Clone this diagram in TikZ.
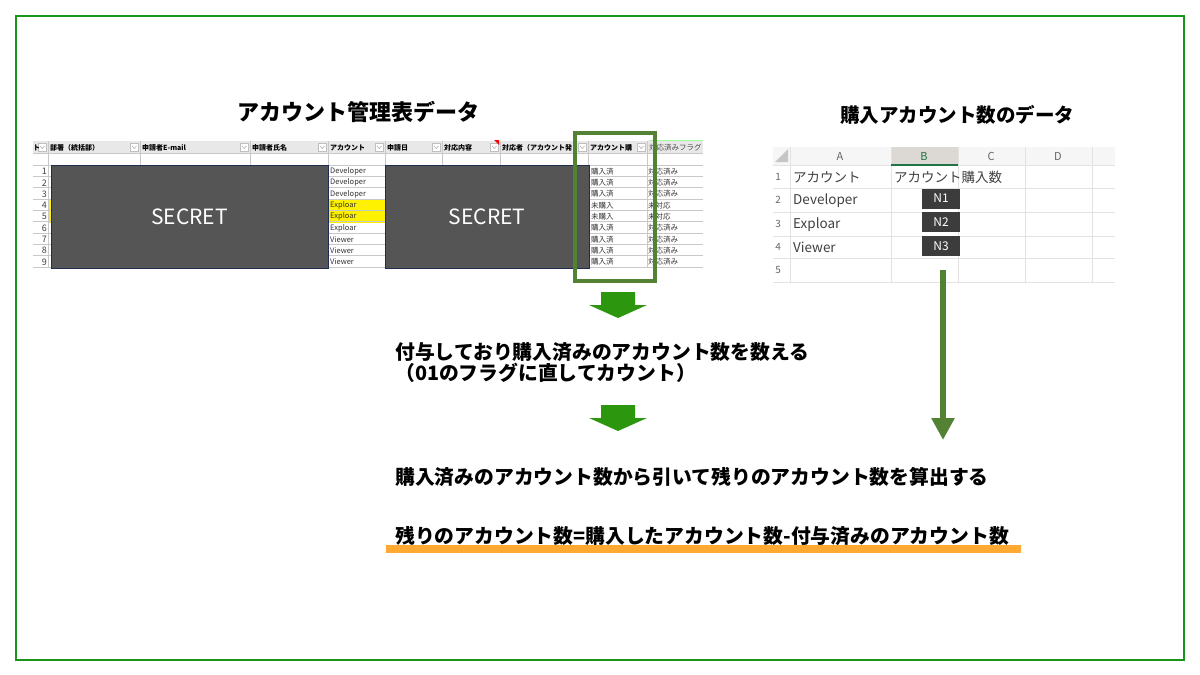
\documentclass[tikz,border=0pt]{standalone}
\usepackage{fontspec}
\setmainfont{Noto Sans CJK JP}
\usetikzlibrary{arrows.meta,positioning}
\definecolor{framegreen}{RGB}{25,150,25}
\definecolor{arrowgreen}{RGB}{45,150,15}
\definecolor{olivegreen}{RGB}{84,130,53}
\definecolor{secretgray}{RGB}{85,85,85}
\definecolor{secretedge}{RGB}{30,45,80}
\definecolor{headgray}{RGB}{232,232,232}
\definecolor{gridgray}{RGB}{200,200,200}
\definecolor{xlgrid}{RGB}{226,226,226}
\definecolor{xlhead}{RGB}{246,246,246}
\definecolor{xlsel}{RGB}{220,217,213}
\definecolor{xlgreen}{RGB}{33,115,70}
\definecolor{celltext}{RGB}{64,64,64}
\definecolor{nbox}{RGB}{60,60,60}
\definecolor{barorange}{RGB}{255,168,50}
\tikzset{x=1pt, y=-1pt,
  sheettitle/.style={inner sep=0, font=\bfseries\fontsize{22}{26}\selectfont},
  stepnote/.style={anchor=west, align=left, inner sep=0, font=\bfseries\fontsize{19.8}{21.5}\selectfont},
  headtxt/.style={anchor=west, inner sep=0, font=\bfseries\fontsize{7}{8}\selectfont},
  celltxt/.style={anchor=west, inner sep=0, text=black!80, font=\fontsize{7.5}{8}\selectfont},
  rownum/.style={anchor=east, inner sep=0, text=black!75, font=\fontsize{9}{10}\selectfont},
  secret/.style={draw=secretedge, fill=secretgray, text=white, inner sep=0, font=\fontsize{21}{24}\selectfont},
  ddbox/.style={draw=gray!50, fill=white, line width=0.4pt},
  xltxt/.style={anchor=west, inner sep=0, text=celltext, font=\fontsize{13.5}{15}\selectfont},
  xlcol/.style={inner sep=0, text=black!60, font=\fontsize{11}{12}\selectfont},
  nlabel/.style={fill=nbox, text=white, minimum width=38, minimum height=20, inner sep=0, font=\fontsize{12}{13}\selectfont},
  nflow/.style={olivegreen, line width=6.5pt, -{Triangle[width=22pt,length=22pt]}},
  blockdown/.pic={\fill[arrowgreen] (-17,-13) -- (17,-13) -- (17,0) -- (29,0) -- (0,13) -- (-29,0) -- (-17,0) -- cycle;}
}

\begin{document}
\begin{tikzpicture}
    \useasboundingbox (0,0) rectangle (1200,675);
    \draw[framegreen, line width=1.2pt] (16,16) rectangle (1184,660);

    \node[sheettitle] (T1) at (358,112) {アカウント管理表データ};
    \node[sheettitle, font=\bfseries\fontsize{19.5}{22}\selectfont] (T2) at (957,115) {購入アカウント数のデータ};

    % left sheet
    \fill[headgray] (33,141) rectangle (703,153);
    \fill[yellow] (48,200) rectangle (385,222.6);
    \draw[gridgray] (33,153) -- (703,153);
    \foreach \i in {0,...,9} \draw[gridgray] (33,165+\i*11.3) -- (703,165+\i*11.3);
    \foreach \x in {48,140,250,328,385,442,500,588,647} \draw[gridgray] (\x,141) -- (\x,268);
    \draw[green!40, line width=1pt] (649,140.5) -- (703,140.5);
    \foreach \x in {48,140,250,328,385,442,500,588,647} {
        \draw[ddbox] (\x-10,143.5) rectangle (\x-1.5,151);
        \draw[gray!70, line width=0.5pt] (\x-8,146) -- (\x-5.75,148.5) -- (\x-3.5,146);
    }
    \fill[red] (494,140) -- (499,140) -- (499,145) -- cycle;
    \foreach \x/\t [count=\k] in {33/ト, 50/部署（統括部）, 142/申請者E-mail, 252/申請者氏名, 330/アカウント, 387/申請日, 444/対応内容, 502/対応者（アカウント発, 590/アカウント購}
        \node[headtxt] (H\k) at (\x,147.5) {\t};
    \node[headtxt, font=\fontsize{7.5}{8}\selectfont, text=black!70] (H10) at (649,147.5) {対応済みフラグ};

    \foreach \a/\b/\c [count=\i] in {Developer/購入済/対応済み, Developer/購入済/対応済み, Developer/購入済/対応済み, Exploar/未購入/未対応, Exploar/未購入/未対応, Exploar/購入済/対応済み, Viewer/購入済/対応済み, Viewer/購入済/対応済み, Viewer/購入済/対応済み} {
        \node[rownum] (R\i) at (47,160.2+\i*11.3) {\i};
        \node[celltxt] (A\i) at (330,160.2+\i*11.3) {\a};
        \node[celltxt] (P\i) at (591,160.2+\i*11.3) {\b};
        \node[celltxt] (F\i) at (648,160.2+\i*11.3) {\c};
    }

    \node[secret, minimum width=277, minimum height=103] (S1) at (189.5,216.5) {SECRET};
    \node[secret, minimum width=204, minimum height=103] (S2) at (487,216.5) {SECRET};
    \draw[olivegreen, line width=3.5pt] (575,133) rectangle (655,281);

    % steps
    \pic at (618,305) {blockdown};
    \node[stepnote] (step1) at (395,362.5) {付与しており購入済みのアカウント数を数える\\（01のフラグに直してカウント）};
    \pic at (618,418) {blockdown};
    \node[stepnote] (step2) at (395,477) {購入済みのアカウント数から引いて残りのアカウント数を算出する};
    \fill[barorange] (386,545) rectangle (1021,553);
    \node[stepnote] (step3) at (395,536) {残りのアカウント数=購入したアカウント数-付与済みのアカウント数};

    % right sheet
    \fill[xlhead] (773,147) rectangle (1115,165);
    \fill[xlsel] (891,147) rectangle (958,165);
    \fill[gray!45] (775,162) -- (788,162) -- (788,149) -- cycle;
    \foreach \y in {165,188,212,236,258,282} \draw[xlgrid] (773,\y) -- (1115,\y);
    \foreach \x in {790,891,958,1025,1092} \draw[xlgrid] (\x,147) -- (\x,282);
    \draw[xlgreen, line width=1.6pt] (891,165) -- (958,165);
    \node[xlcol] (CA) at (840,156) {A};
    \node[xlcol, text=xlgreen] (CB) at (924,156) {B};
    \node[xlcol] (CC) at (991,156) {C};
    \node[xlcol] (CD) at (1058,156) {D};
    \foreach \y/\n in {176.5/1, 200/2, 224/3, 247/4, 270/5}
        \node[rownum, font=\fontsize{10}{11}\selectfont, text=black!60] (X\n) at (781,\y) {\n};
    \node[xltxt] (xA1) at (793,177) {アカウント};
    \node[xltxt] (xB1) at (894,177) {アカウント購入数};
    \node[xltxt] (xA2) at (793,200.5) {Developer};
    \node[xltxt] (xA3) at (793,224.5) {Exploar};
    \node[xltxt] (xA4) at (793,247.5) {Viewer};
    \node[nlabel] (N1) at (941,198.5) {N1};
    \node[nlabel] (N2) at (941,222) {N2};
    \node[nlabel] (N3) at (941,246) {N3};
    \coordinate (nstart) at (943,270);
    \coordinate (nend) at (943,440);
    \draw[nflow] (nstart) -- (nend);
\end{tikzpicture}
\end{document}
